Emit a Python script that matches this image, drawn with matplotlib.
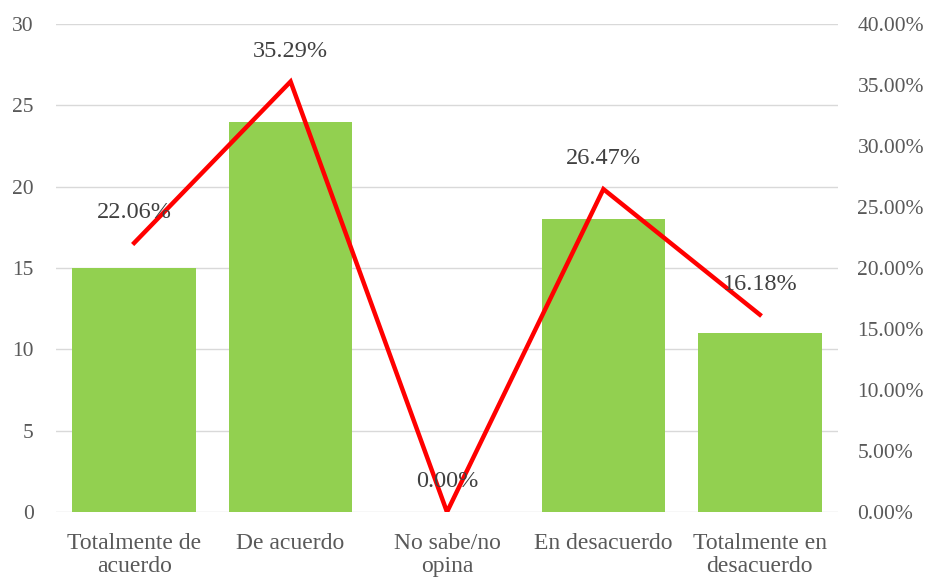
import matplotlib
matplotlib.use("Agg")
import matplotlib.pyplot as plt

categories = ["Totalmente de\nacuerdo", "De acuerdo", "No sabe/no\nopina", "En desacuerdo", "Totalmente en\ndesacuerdo"]
counts = [15, 24, 0, 18, 11]
percents = [22.06, 35.29, 0.00, 26.47, 16.18]
left_ticks = [0, 5, 10, 15, 20, 25, 30]
right_ticks = [0, 5, 10, 15, 20, 25, 30, 35, 40]

plt.rcParams['font.family'] = ['Liberation Serif', 'DejaVu Serif']
tc = '#595959'

fig = plt.figure(figsize=(9.36, 5.77), dpi=100)
ax = fig.add_axes([0.0598, 0.1127, 0.8355, 0.8455])
x = list(range(len(categories)))
ax.bar(x, counts, width=0.79, color='#92D050', zorder=2)
ax.set_xlim(-0.5, len(categories) - 0.5)
ax.set_ylim(0, 30)
ax.set_yticks(left_ticks)
ax.set_yticklabels([str(t) for t in left_ticks])
ax.set_xticks(x)
ax.set_xticklabels(categories, fontsize=17, color=tc, linespacing=1.12)
ax.tick_params(axis='y', labelsize=15.5, labelcolor=tc, length=0, pad=16)
ax.tick_params(axis='x', length=0, pad=15)
ax.grid(axis='y', color='#d9d9d9', linewidth=1, zorder=0)
for s in ax.spines.values():
    s.set_visible(False)
ax.set_axisbelow(True)

ax2 = ax.twinx()
ax2.plot(x, [p / 100 for p in percents], color='#FF0000', linewidth=3.2, zorder=3, solid_joinstyle='miter')
ax2.set_ylim(0, 0.40)
ax2.set_yticks([t / 100 for t in right_ticks])
ax2.set_yticklabels([f"{t:.2f}%" for t in right_ticks])
ax2.tick_params(axis='y', labelsize=15.5, labelcolor=tc, length=0, pad=14)
for s in ax2.spines.values():
    s.set_visible(False)
for xi, p in zip(x, percents):
    ax2.annotate(f"{p:.2f}%", (xi, p / 100), xytext=(0, 22), textcoords='offset points',
                 ha='center', va='center', fontsize=17.5, color='#404040')

fig.savefig('out.png', dpi=100)
